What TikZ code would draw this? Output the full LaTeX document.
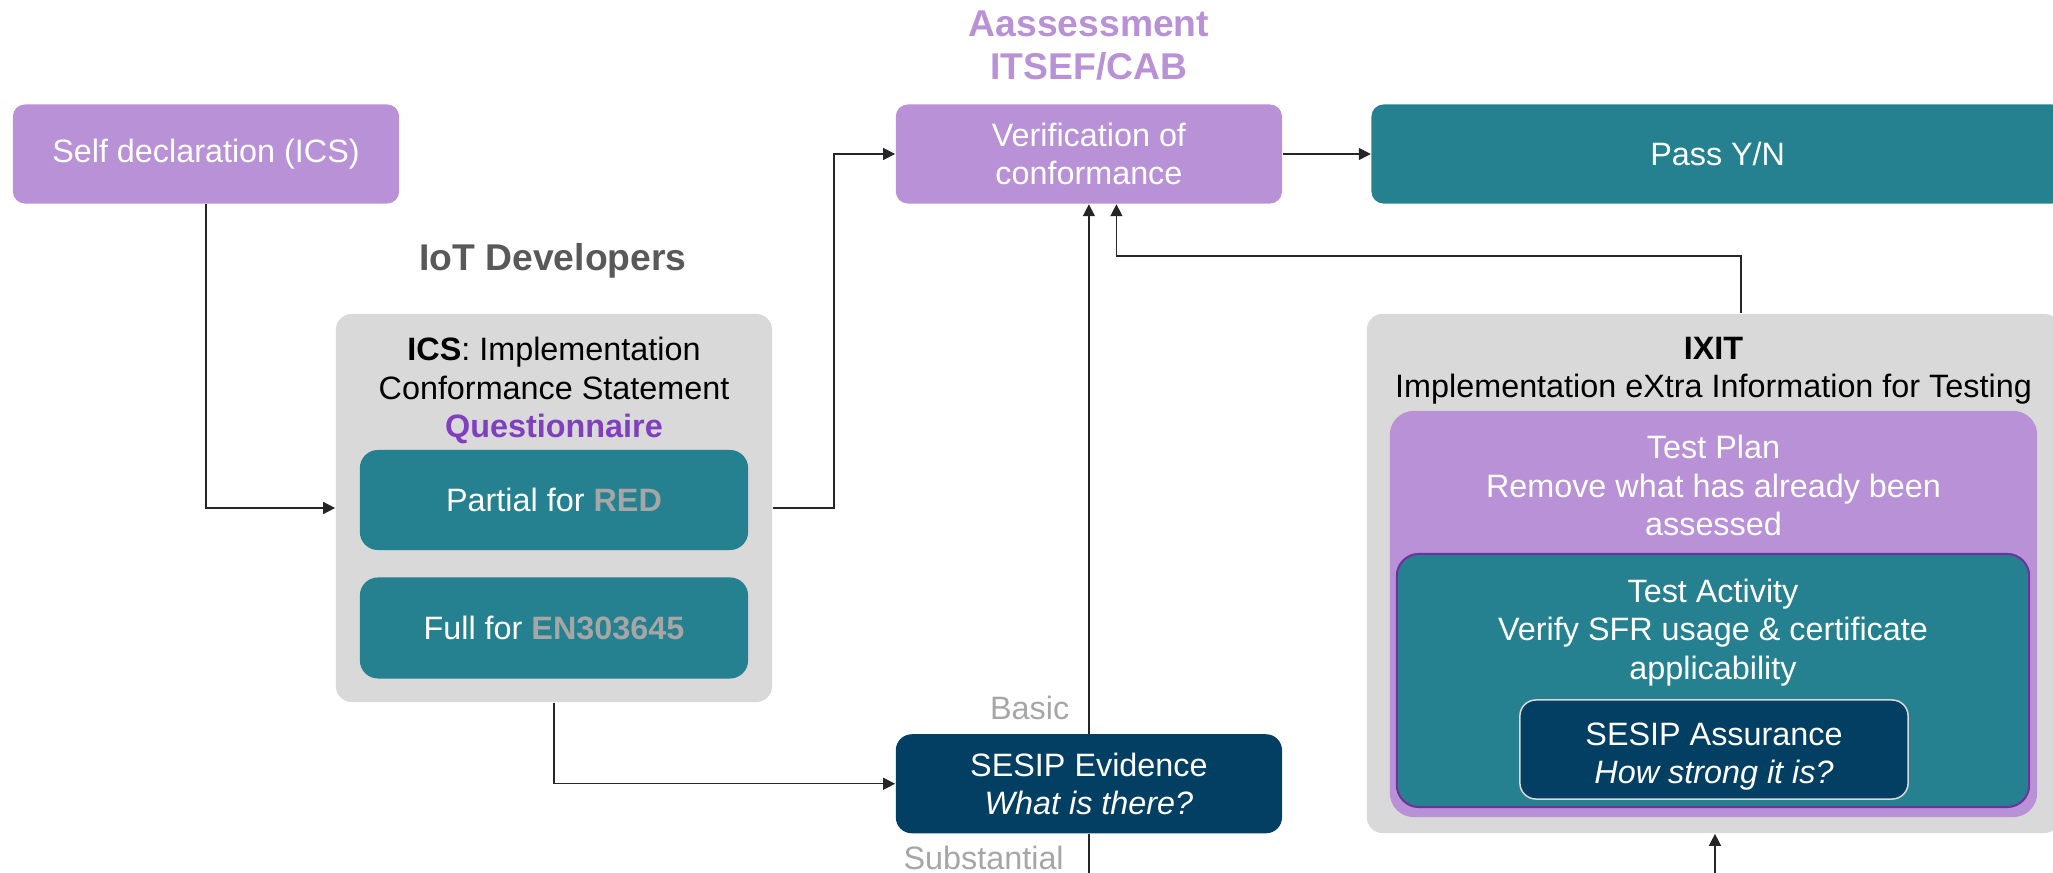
\documentclass[tikz,border=0pt]{standalone}
\usepackage{fontspec}
\setmainfont{Liberation Sans}
\usetikzlibrary{positioning,arrows.meta,calc}
\definecolor{declpurple}{HTML}{B891D6}
\definecolor{qpurple}{HTML}{7F3FBF}
\definecolor{actborder}{HTML}{7030A0}
\definecolor{passteal}{HTML}{258190}
\definecolor{sesipblue}{HTML}{033F63}
\definecolor{panelgray}{HTML}{D9D9D9}
\definecolor{devgray}{HTML}{595959}
\definecolor{levelgray}{HTML}{A6A6A6}
\definecolor{linegray}{HTML}{262626}

\begin{document}
\begin{tikzpicture}[
    x=0.01cm, y=-0.01cm,
    >={Triangle[length=0.12cm, width=0.12cm]},
    every node/.style={font=\fontsize{9.2}{10.9}\selectfont, inner sep=0pt},
    box/.style={
        fill=#1, rounded corners=0.12cm, text=white, align=center,
        minimum width=3.86cm, minimum height=0.99cm
    },
    panel/.style={fill=panelgray, rounded corners=0.16cm},
    heading/.style={font=\fontsize{10.6}{12.2}\selectfont\bfseries, text=#1, align=center},
    level/.style={text=levelgray},
    arr/.style={->, draw=linegray, line width=0.4pt},
]

% page frame
\useasboundingbox (0,0) rectangle (2053,873);
\clip (0,0) rectangle (2053,873);

% === Top Row ===
\node[box=declpurple] (selfdecl) at (206,154) {\raisebox{-0.04cm}{Self declaration (ICS)}};
\node[box=declpurple, right=4.95cm of selfdecl] (verif) {Verification of\\conformance};
\node[box=passteal, minimum width=6.92cm, right=0.88cm of verif] (pass) {Pass Y/N};

\node[heading=declpurple, above=0.23cm of verif] (assess) {Aassessment\\ITSEF/CAB};
\node[heading=devgray] (devs) at (553,261) {IoT Developers};

% === ICS panel ===
\node[panel, minimum width=4.36cm, minimum height=3.88cm] (ics) at (554,508) {};
\node[below=0.234cm of ics.north, align=center] (icstext)
    {\textbf{ICS}: Implementation\\Conformance Statement\\\textcolor{qpurple}{\textbf{Questionnaire}}};
\node[box=passteal, minimum width=3.88cm, minimum height=1cm, rounded corners=0.18cm] (partial) at (554,500)
    {Partial for \textcolor{levelgray}{\textbf{RED}}};
\node[box=passteal, minimum width=3.88cm, minimum height=1.01cm, rounded corners=0.18cm, below=0.26cm of partial] (full)
    {Full for \textcolor{levelgray}{\textbf{EN303645}}};

% === SESIP Evidence ===
\node[box=sesipblue, rounded corners=0.16cm, below=5.29cm of verif] (sesip) {SESIP Evidence\\\textit{What is there?}};
\node[level, anchor=base east] (basic) at ([xshift=-0.19cm, yshift=0.14cm]sesip.north) {Basic};
\node[level, anchor=base east] (subst) at ([xshift=-0.245cm, yshift=-0.35cm]sesip.south) {Substantial};

% === IXIT panel ===
\node[panel, minimum width=6.93cm, minimum height=5.19cm] (ixit) at (1713.5,573.5) {};
\node[below=0.234cm of ixit.north, align=center] (ixittext)
    {\textbf{IXIT}\\Implementation eXtra Information for Testing};
\node[box=declpurple, minimum width=6.47cm, minimum height=4.06cm, rounded corners=0.24cm] (plan) at (1713.5,614) {};
\node[below=0.244cm of plan.north, align=center, text=white] (plantext)
    {Test Plan\\Remove what has already been\\assessed};
\node[box=passteal, draw=actborder, line width=0.02cm, minimum width=6.32cm, minimum height=2.53cm,
    rounded corners=0.22cm] (activity) at (1713,680.5) {};
\node[below=0.254cm of activity.north, align=center, text=white] (acttext)
    {Test Activity\\Verify SFR usage \& certificate\\applicability};
\node[box=sesipblue, draw=panelgray, line width=0.015cm, minimum width=3.88cm, rounded corners=0.16cm] (assurance)
    at (1714,749.5) {};
\node[align=center, text=white] (assurtext) at ([yshift=-0.07cm]assurance.center)
    {SESIP Assurance\\\textit{How strong it is?}};

% === Arrows ===
\coordinate (sesipfoot) at (1087,890);
\coordinate (ixitfoot) at (1715,890);

\draw[arr] (selfdecl.south) |- (ics.west);
\draw[arr] (ics.east) -- ++(61,0) |- (verif.west);
\draw[arr] (verif) -- (pass);
\draw[arr] (ics.south) |- (sesip.west);
\draw[arr] (sesip.north) -- (verif.south);
\draw[arr, -] (sesip.south) -- (sesip.south |- sesipfoot);
\draw[arr] ([xshift=0.275cm]ixit.north) -- ++(0,0.57cm) -| ([xshift=0.275cm]verif.south);
\draw[arr] (ixitfoot) -- (ixitfoot |- ixit.south);

\end{tikzpicture}
\end{document}
